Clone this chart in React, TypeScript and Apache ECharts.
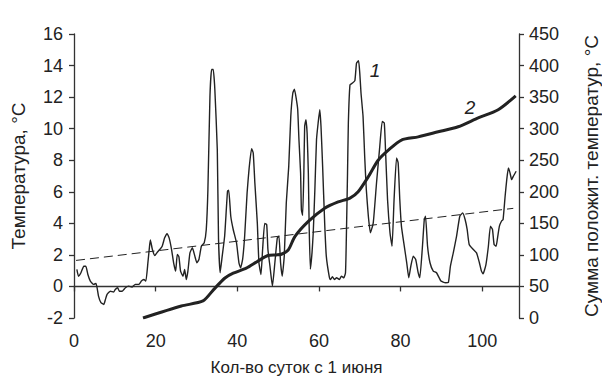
import React, { useEffect, useRef } from "react";
import * as echarts from "echarts";

const tempDays = [
  0.7, 1.1, 1.7, 2.4, 2.9, 3.4, 4.0, 4.8, 5.4, 6.0, 6.6, 7.3, 7.7, 8.1, 8.9, 9.7, 10.1, 10.7, 11.1, 11.8,
  12.6, 13.4, 14.2, 15.0, 15.9, 16.5, 17.1, 17.6, 18.1, 18.5, 18.7, 19.2, 19.8, 20.3, 21.0, 21.6, 22.2, 22.8,
  23.3, 23.9, 24.4, 24.9, 25.3, 25.7, 26.1, 26.7, 27.1, 27.5, 27.9, 28.4, 29.0, 29.6, 30.1, 30.6, 31.2, 31.9,
  32.4, 32.8, 33.3, 33.7, 34.1, 34.5, 35.1, 35.4, 35.8, 36.3, 36.9, 37.6, 37.9, 38.4, 39.0, 39.8, 40.4, 40.8,
  41.3, 41.8, 42.4, 42.9, 43.5, 43.9, 44.3, 44.9, 45.3, 45.8, 46.2, 46.7, 47.2, 47.5, 48.0, 48.6, 49.2, 49.8,
  50.2, 50.6, 51.0, 51.5, 52.0, 52.6, 53.1, 53.6, 54.0, 54.5, 54.8, 55.1, 55.5, 55.7, 56.0, 56.3, 56.5, 56.8,
  57.1, 57.4, 57.6, 57.9, 58.3, 58.6, 59.0, 59.4, 59.8, 60.2, 60.5, 60.9, 61.4, 61.8, 62.5, 62.8, 63.3, 63.8,
  64.3, 65.0, 65.5, 66.1, 66.5, 66.7, 67.0, 67.2, 67.6, 68.2, 68.8, 69.2, 69.7, 70.0, 70.3, 70.8, 71.2, 71.6,
  72.1, 72.6, 73.3, 74.1, 74.9, 75.5, 76.0, 76.3, 76.8, 77.4, 77.9, 78.4, 79.0, 79.4, 79.8, 80.2, 80.9, 81.5,
  82.0, 82.5, 83.1, 83.7, 84.3, 84.7, 85.3, 85.8, 86.1, 86.6, 87.2, 88.0, 88.8, 89.9, 91.0, 91.7, 92.2, 92.9,
  93.7, 94.5, 95.2, 95.8, 96.3, 96.8, 97.8, 98.6, 99.3, 99.8, 100.2, 100.9, 101.5, 102.0, 102.5, 102.9, 103.4,
  103.8, 104.2, 104.7, 105.1, 105.6, 106.0, 106.4, 106.8, 107.2, 107.6, 108.3,
];
const tempValues = [
  1.08, 0.65, 0.87, 1.28, 1.28, 0.76, 0.34, 0.13, 0.19, -0.61, -1.03, -1.14, -0.82, -0.5, -0.3, -0.36, -0.19,
  -0.08, -0.3, -0.3, -0.08, 0.02, -0.04, 0.13, 0.13, 0.34, 0.44, 0.34, 1.5, 2.55, 2.95, 2.34, 1.96, 2.13, 2.34,
  2.55, 3.08, 3.35, 3.08, 2.34, 1.5, 0.97, 2.03, 1.88, 0.97, 0.65, 1.08, 0.44, 0.97, 2.13, 2.45, 1.92, 1.5, 1.71,
  2.55, 2.77, 3.61, 6.14, 12.04, 13.75, 13.75, 12.47, 8.67, 3.0, 0.87, 1.92, 3.18, 6.03, 6.1, 4.45, 3.61, 2.77,
  1.5, 1.18, 1.71, 3.18, 5.93, 7.5, 8.73, 8.46, 6.56, 4.03, 1.5, 0.76, 2.34, 3.99, 3.92, 2.34, 1.28, 0.02, 1.5,
  3.08, 3.18, 1.5, 0.65, 1.92, 5.3, 7.61, 10.78, 12.26, 12.5, 11.8, 11.2, 9.3, 7.2, 4.87, 4.5, 7.2, 10.15, 10.57,
  9.73, 7.2, 3.82, 1.1, 2.13, 3.4, 6.14, 9.3, 10.36, 11.2, 10.15, 7.61, 4.03, 1.92, 0.65, 0.44, 0.61, 0.44, 0.55,
  0.44, 0.65, 0.55, 0.87, 2.97, 7.2, 10.36, 12.78, 12.89, 13.05, 14.16, 14.3, 13.52, 12.26, 10.78, 8.25, 6.14,
  4.45, 3.4, 4.03, 6.56, 8.88, 10.46, 10.36, 8.67, 5.51, 3.4, 2.55, 5.51, 8.15, 7.83, 5.51, 3.82, 2.55, 1.5, 0.55,
  1.28, 1.92, 1.71, 0.87, 0.55, 2.34, 4.24, 4.45, 2.55, 1.5, 0.97, 0.87, 0.34, 0.23, 0.25, 1.28, 2.13, 3.18, 4.45,
  4.66, 4.24, 3.61, 2.66, 2.34, 2.13, 1.5, 0.97, 0.8, 1.39, 2.55, 3.82, 3.61, 2.66, 2.55, 3.18, 3.82, 4.13, 4.24,
  5.72, 6.77, 7.51, 7.2, 6.77, 6.98, 7.3,
];

const sumDays = [16.9, 26.3, 31.6, 34.2, 36.9, 39, 42.2, 45, 47.5, 49.5, 50.8, 52.5, 54.1, 57.4, 61.4, 64.7, 67.6, 69.6, 72.1, 74.5, 77, 80.2, 84.3, 89.2, 94.1, 99, 103.9, 108.2];
const sumValues = [0, 19, 27, 45, 63, 71, 79, 90, 99, 100, 101, 108, 129, 153, 174, 184, 190, 200, 224, 250, 266, 282, 287, 295, 303, 317, 330, 352];

const trendDays = [0.5, 107.6];
const trendValues = [1.65, 4.95];

const xTicks = { min: 0, max: 109, interval: 20 };
const leftTicks = { min: -2, max: 16, interval: 2 };
const rightTicks = { min: 0, max: 450, interval: 50 };

const xName = "Кол-во суток с 1 июня";
const leftName = "Температура, °C";
const rightName = "Сумма положит. температур, °C";

const FONT = "'Liberation Sans', Arial, sans-serif";
const INK = "#222";

export default function App() {
  const ref = useRef<HTMLDivElement>(null);
  useEffect(() => {
    if (!ref.current) return;
    const chart = echarts.init(ref.current, undefined, { renderer: "svg" });
    const axisLine = { show: true, lineStyle: { color: "#333", width: 1.3 } };
    const axisTick = { show: true, inside: false, length: 5, lineStyle: { color: "#333", width: 1.3 } };
    const axisLabel = { color: INK, fontSize: 18, fontFamily: FONT };
    chart.setOption({
      animation: false,
      backgroundColor: "#fff",
      grid: { left: 74, right: 83, top: 34, bottom: 60, containLabel: false, outerBoundsMode: "none" },
      xAxis: {
        type: "value",
        ...xTicks,
        axisLine,
        axisTick,
        splitLine: { show: false },
        axisLabel: { ...axisLabel, margin: 14, showMaxLabel: false },
        name: xName,
        nameLocation: "middle",
        nameGap: 41,
        nameTextStyle: { color: INK, fontSize: 17, fontFamily: FONT },
      },
      yAxis: [
        {
          type: "value",
          position: "left",
          ...leftTicks,
          axisLine,
          axisTick,
          splitLine: { show: false },
          axisLabel: { ...axisLabel, margin: 11 },
          name: leftName,
          nameLocation: "middle",
          nameGap: 46,
          nameTextStyle: { color: INK, fontSize: 19, fontFamily: FONT },
        },
        {
          type: "value",
          position: "right",
          ...rightTicks,
          axisLine,
          axisTick,
          splitLine: { show: false },
          axisLabel: { ...axisLabel, margin: 10 },
          name: rightName,
          nameLocation: "middle",
          nameGap: 63,
          nameTextStyle: { color: INK, fontSize: 19, fontFamily: FONT },
        },
      ],
      series: [
        {
          type: "line",
          yAxisIndex: 0,
          data: tempDays.map((d, i) => [d, tempValues[i]]),
          showSymbol: false,
          smooth: 0.15,
          lineStyle: { color: INK, width: 1.4 },
          z: 3,
        },
        {
          type: "line",
          yAxisIndex: 1,
          data: sumDays.map((d, i) => [d, sumValues[i]]),
          showSymbol: false,
          smooth: 0.25,
          lineStyle: { color: INK, width: 3 },
          z: 4,
        },
        {
          type: "line",
          yAxisIndex: 0,
          data: trendDays.map((d, i) => [d, trendValues[i]]),
          showSymbol: false,
          lineStyle: { color: INK, width: 1, type: [9, 5] },
          z: 2,
        },
      ],
      graphic: [
        {
          type: "text",
          x: 375,
          y: 70,
          style: { text: "1", fontSize: 19, fontStyle: "italic", fontFamily: FONT, fill: INK, align: "center", verticalAlign: "middle" },
        },
        {
          type: "text",
          x: 470,
          y: 107,
          style: { text: "2", fontSize: 19, fontStyle: "italic", fontFamily: FONT, fill: INK, align: "center", verticalAlign: "middle" },
        },
      ],
    });
    return () => chart.dispose();
  }, []);
  return <div ref={ref} style={{ width: 602, height: 378, position: "absolute", left: 0, top: 0 }} />;
}
